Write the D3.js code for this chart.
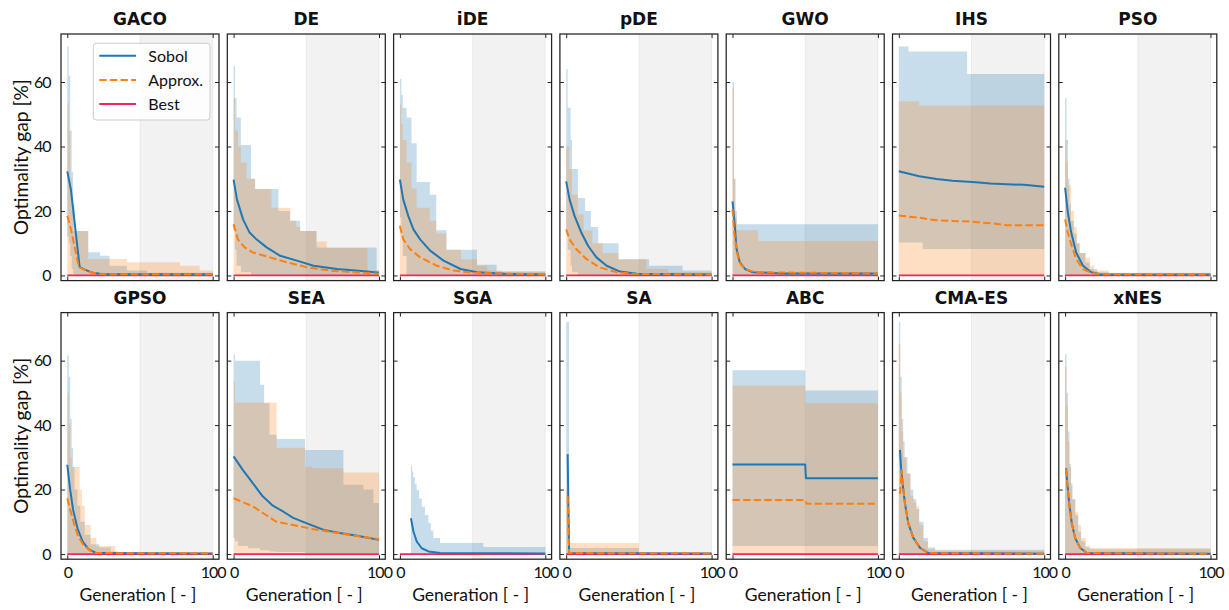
<!DOCTYPE html>
<html>
<head>
<meta charset="utf-8">
<script src="https://cdn.jsdelivr.net/npm/d3@7"></script>
<style>
  html, body { margin: 0; padding: 0; background: #fff; }
  svg { display: block; }
  .tick text { font-family: Lato, "DejaVu Sans", sans-serif; font-size: 16px; fill: #111; letter-spacing: -1px; }
  .tick line { stroke: #222; stroke-width: 1; }
</style>
</head>
<body>
<svg id="chart" width="1229" height="610"></svg>
<script>
// ---- categories and axis ticks ----
const algorithms = ["GACO", "DE", "iDE", "pDE", "GWO", "IHS", "PSO",
                    "GPSO", "SEA", "SGA", "SA", "ABC", "CMA-ES", "xNES"];
const yTicks = [0, 20, 40, 60];
const xTicks = [0, 100];
const seriesNames = ["Sobol", "Approx.", "Best"];
const shadedSpan = [50, 100];
const bestGap = [[0, 0], [100, 0]];

// ---- mean optimality gap per generation: [generation, gap %] ----
// ---- spread bands (step-after): [generation, low, high] ----
const gacoSobol = [[0,32.3],[2.5,26.6],[8.5,2.6],[12,1.8],[17.5,0.8],[25,0.4],[100,0.4]];
const gacoApprox = [[0,18.5],[2.5,14.3],[8,2.5],[12,1.8],[17,0.8],[25,0.4],[100,0.4]];
const gacoSobolBand = [[0,12,71],[1,10,62],[2,6,45],[3,2,32],[4,0.5,22],[5,0,13.8],[14.4,0,7.2],[22.4,0,6.1],[29,0,3],[41,0,1.5],[55,0,0.8],[100,0,0.8]];
const gacoApproxBand = [[0,0,53.4],[1,0,45],[2,0,30],[3,0,20],[4,0,13.8],[14.4,0,5.1],[41,0,4.1],[77.5,0,3],[91,0,1.5],[100,0,1.5]];

const deSobol = [[0,29.7],[2.3,23.6],[6.5,17.4],[11,13.3],[15.7,11.2],[22.7,8.7],[32,6.1],[43.5,4.6],[55,3.0],[71,2.0],[90,1.3],[100,0.8]];
const deApprox = [[0,15.9],[3,11.2],[7.6,8.7],[13.4,7.1],[25,5.6],[36.6,4.1],[50.5,2.5],[66.7,1.5],[83,1.0],[100,0.5]];
const deSobolBand = [[0,14,65],[1,8,55],[2,3,49],[5,1,40.5],[12,0,30],[14.8,0,26.8],[30.8,0,20],[38.8,0,17],[45.7,0,13.8],[57,0,8.7],[98.4,0,1.5],[100,0,1.5]];
const deApproxBand = [[0,0,55],[1,0,45],[3,0,40],[5,0,35],[9,0,30],[14.8,0,26.8],[26,0,21],[39,0,17],[43,0,15],[46,0,13.8],[57,0,10.5],[64,0,8.5],[92,0,1.5],[100,0,1.5]];

const ideSobol = [[0,29.7],[2.3,23.6],[5.8,18.4],[9.3,14.3],[13.9,11.2],[20.8,7.7],[30,4.6],[41.7,2.0],[53,1.0],[72,0.5],[100,0.3]];
const ideApprox = [[0,15.4],[2.3,11.2],[6.9,8.2],[13.9,5.6],[25.5,3.0],[37,1.5],[51,0.8],[100,0.3]];
const ideSobolBand = [[0,18,61],[1,12,56],[2,6,52],[4.6,0,49],[8,0,41],[11.5,0,29],[20.6,0,25],[25,0,14],[32,0,8],[53,0,3.3],[66.5,0,1.3],[100,0,1.3]];
const ideApproxBand = [[0,0,53],[1,0,47],[2,0,42],[4.6,0,35],[8,0,27],[11.5,0,21],[20.6,0,17],[25,0,13],[32,0,8],[42,0,5],[53,0,3],[60,0,1.5],[70,0,1],[100,0,1]];

const pdeSobol = [[0,29.2],[2.3,23.6],[5.8,18.4],[10.4,13.3],[15,9.2],[20.8,5.6],[27.8,3.0],[37,1.2],[48.6,0.5],[100,0.3]];
const pdeApprox = [[0,14.3],[2.3,11.2],[6.9,8.2],[13.9,5.1],[23,2.5],[34.7,1.0],[46,0.5],[100,0.3]];
const pdeSobolBand = [[0,14,64],[1,8,52],[3,3,42],[4,1,33],[8,0,24],[13,0,20],[17,0,15],[22,0,10],[36,0,5],[57,0,3],[80,0,1.5],[100,0,1.5]];
const pdeApproxBand = [[0,0,40],[2,0,33],[4,0,25],[8,0,19],[12,0,14],[18,0,10],[25,0,7],[36,0,5],[55,0,2],[70,0,1],[100,0,1]];

const gwoSobol = [[0,23.0],[1.6,15.4],[2.8,8.2],[5,4.1],[8.6,2.0],[14,1.0],[35,0.6],[100,0.6]];
const gwoApprox = [[0,20.5],[1.2,13.3],[3,7.1],[5.5,3.5],[9.6,1.8],[16,1.0],[100,0.6]];
const gwoSobolBand = [[0,0,60],[1,0,30],[2,0,20],[3,0,15.9],[100,0,15.9]];
const gwoApproxBand = [[0,0,58],[1,0,30],[2,0,18],[3,0,14],[17.7,0,10.7],[100,0,10.7]];

const ihsSobol = [[0,32.3],[14,30.8],[26,29.9],[37,29.4],[53,28.9],[63,28.5],[86,28.1],[100,27.5]];
const ihsApprox = [[0,18.6],[14,17.9],[26,17.1],[49,16.7],[65,16.1],[74,15.6],[100,15.6]];
const ihsSobolBand = [[0,10.2,71],[6.6,10.2,69.5],[16.4,8.2,69.5],[47,8.2,62.5],[100,8.2,62.5]];
const ihsApproxBand = [[0,0,54],[14,0,52.7],[100,0,52.7]];

const psoSobol = [[0,27.2],[1.9,19.5],[4.2,13.3],[7.6,7.1],[12.3,3.0],[18,1.0],[24,0.4],[100,0.3]];
const psoApprox = [[0,17.4],[1.9,13.3],[4.2,9.7],[7.6,5.1],[12.3,2.0],[18,0.8],[24,0.4],[100,0.3]];
const psoSobolBand = [[0,0,55],[1,0,42],[2,0,30],[3,0,22],[4,0,17],[6,0,13],[8,0,10],[10,0,7],[14,0,4],[17,0,2],[22,0,1],[30,0,0.5],[100,0,0.5]];
const psoApproxBand = [[0,0,42],[1,0,35],[2,0,28],[4,0,20],[6,0,15],[8,0,10],[10,0,7],[14,0,5.5],[17,0,3],[20,0,1.5],[30,0,0.8],[100,0,0.8]];

const gpsoSobol = [[0,27.7],[2,19.9],[4,13.7],[7,8.0],[10.5,3.9],[14.5,1.5],[20,0.3],[100,0.2]];
const gpsoApprox = [[0,17.3],[2,13.7],[4.5,9.6],[7.5,5.4],[11,2.9],[15.5,1.1],[20,0.3],[100,0.2]];
const gpsoSobolBand = [[0,0,61.7],[1,0,55],[2,0,42],[3,0,33],[4,0,27],[5,0,20],[7,0,15],[9,0,10],[12,0,6],[16,0,3],[22,0,2],[30,0,0.8],[35,0,0.3],[100,0,0.3]];
const gpsoApproxBand = [[0,0,50],[1,0,40],[2,0,30],[3,0,27],[8.5,0,20],[10,0,15],[12,0,9],[16,0,5],[20,0,2.5],[33,0,0.5],[100,0,0.5]];

const seaSobol = [[0,30.3],[6.3,26.1],[13.2,22.0],[20,17.9],[27,15.0],[34,13.2],[41,11.2],[50,9.6],[62,7.5],[73,6.5],[85,5.7],[100,4.4]];
const seaApprox = [[0,17.3],[13.2,14.8],[22,12.2],[29,10.1],[40,9.1],[55,7.7],[69,6.7],[83,5.7],[100,4.6]];
const seaSobolBand = [[0,5,62],[1,4,60],[3,2.5,60],[10,1.8,60],[18.2,1.2,52.5],[21,1.2,46.8],[24.7,0.8,37],[29.6,0.6,35.7],[49.1,0.3,32.3],[75.5,0.3,21.5],[89.3,0.3,20],[96.2,0.3,15.8],[100,0.3,15.8]];
const seaApproxBand = [[0,0,53.5],[1,0,47],[29.6,0,33],[49.1,0,27.1],[54,0,26.6],[75.5,0,25.3],[100,0,25.3]];

const sgaSobol = [[7.6,11.1],[9.3,7.0],[11.6,3.9],[15,1.8],[19.7,0.8],[27.8,0.3],[100,0.2]];
const sgaApprox = [];
const sgaSobolBand = [[7.6,0,27.4],[8.4,0,25.5],[9.2,0,23.8],[10.3,0,21.8],[11.5,0,19.9],[13.2,0,17.2],[15,0,14.7],[17.3,0,12.1],[19.6,0,9.6],[21.3,0,7.3],[23,0,5],[27.6,0,3.4],[57.4,0,2.2],[100,0,2.2]];
const sgaApproxBand = [];

const saSobol = [[1,31],[2,0.3],[100,0.2]];
const saApprox = [[1,18],[2,0.3],[100,0.2]];
const saSobolBand = [[0,0,72],[2,0,1.9],[50,0,0.3],[100,0,0.3]];
const saApproxBand = [[0,0,20],[2,0,3.4],[50,0,0.3],[100,0,0.3]];

const abcSobol = [[0,27.8],[50,27.8],[50.5,23.5],[100,23.5]];
const abcApprox = [[0,16.8],[50,16.8],[51,15.6],[100,15.6]];
const abcSobolBand = [[0,2.5,57],[50,2.5,50.7],[100,2.5,50.7]];
const abcApproxBand = [[0,0,52.3],[50,0,46.8],[100,0,46.8]];

const cmaesSobol = [[0.8,32.3],[1.5,27.2],[2.6,22],[4.2,15.8],[6.5,9.6],[10,5],[14.6,1.9],[20.4,0.3],[100,0.1]];
const cmaesApprox = [[0.8,18.6],[2,26],[2.6,22.5],[4.2,15.8],[6.5,9.6],[10,5],[14.6,1.9],[20.4,0.3],[100,0.1]];
const cmaesSobolBand = [[0,0,72],[1,0,55],[2,0,42],[3,0,35],[4,0,30],[6,0,25],[8,0,20],[10,0,17],[12,0,14],[14,0,10],[17,0,5],[20,0,2],[25,0,1.3],[100,0,1.3]];
const cmaesApproxBand = [[0,0,65],[1,0,50],[2,0,38],[3,0,30],[5,0,25],[8,0,18],[10,0,16],[12,0,14.8],[14,0,9],[17,0,4],[20,0,1.5],[25,0,1],[100,0,0.8]];

const xnesSobol = [[0.7,26.6],[1.5,22],[2.8,15.8],[4.6,9.6],[6.9,5],[10.4,1.9],[15,0.3],[100,0.1]];
const xnesApprox = [[0.7,26.3],[1.5,21.8],[2.8,15.6],[4.6,9.5],[6.9,5],[10.4,1.9],[15,0.3],[100,0.1]];
const xnesSobolBand = [[0,0,62],[1,0,50],[2,0,38],[3,0,28],[4,0,22],[5,0,17],[7,0,12],[9,0,7],[11,0,4],[14,0,2],[17,0,1.5],[100,0,1.2]];
const xnesApproxBand = [[0,0,58],[1,0,46],[2,0,35],[3,0,27],[4,0,21],[5,0,17],[7,0,13],[9,0,9],[11,0,5],[14,0,2.5],[17,0,1.9],[100,0,1.9]];

// panel table built from the arrays above
const panelData = [
  [gacoSobol, gacoApprox, gacoSobolBand, gacoApproxBand],
  [deSobol, deApprox, deSobolBand, deApproxBand],
  [ideSobol, ideApprox, ideSobolBand, ideApproxBand],
  [pdeSobol, pdeApprox, pdeSobolBand, pdeApproxBand],
  [gwoSobol, gwoApprox, gwoSobolBand, gwoApproxBand],
  [ihsSobol, ihsApprox, ihsSobolBand, ihsApproxBand],
  [psoSobol, psoApprox, psoSobolBand, psoApproxBand],
  [gpsoSobol, gpsoApprox, gpsoSobolBand, gpsoApproxBand],
  [seaSobol, seaApprox, seaSobolBand, seaApproxBand],
  [sgaSobol, sgaApprox, sgaSobolBand, sgaApproxBand],
  [saSobol, saApprox, saSobolBand, saApproxBand],
  [abcSobol, abcApprox, abcSobolBand, abcApproxBand],
  [cmaesSobol, cmaesApprox, cmaesSobolBand, cmaesApproxBand],
  [xnesSobol, xnesApprox, xnesSobolBand, xnesApproxBand]
];

// ---- layout ----
const colors = { sobol: "#1f77b4", approx: "#ff7f0e", best: "#f5245a" };
const nCols = 7;
const left0 = 61, colStep = 166.3, panelW = 158, panelH = 246.6;
const rowTops = [34, 312.6];
const labelFont = "Lato, 'DejaVu Sans', sans-serif";

const x = d3.scaleLinear().domain([-4.33, 104.33]).range([0, panelW]);
const y = d3.scaleLinear().domain([-1.6, 74.9]).range([panelH, 0]);

const svg = d3.select("#chart");
const defs = svg.append("defs");
defs.append("clipPath").attr("id", "plot-clip")
  .append("rect").attr("width", panelW).attr("height", panelH);

const line = d3.line().x(d => x(d[0])).y(d => y(d[1]));
const band = d3.area().curve(d3.curveStepAfter)
  .x(d => x(d[0])).y0(d => y(d[1])).y1(d => y(d[2]));

algorithms.forEach((name, i) => {
  const col = i % nCols, row = Math.floor(i / nCols);
  const [sobol, approx, sobolBand, approxBand] = panelData[i];
  const g = svg.append("g")
    .attr("transform", `translate(${left0 + col * colStep},${rowTops[row]})`);

  const plot = g.append("g").attr("clip-path", "url(#plot-clip)");

  // shaded late-generation window
  plot.append("rect")
    .attr("x", x(shadedSpan[0])).attr("y", -1)
    .attr("width", x(shadedSpan[1]) - x(shadedSpan[0])).attr("height", panelH + 2)
    .attr("fill", "#808080").attr("fill-opacity", 0.1)
    .attr("stroke", "#808080").attr("stroke-opacity", 0.1).attr("stroke-width", 1);

  if (sobolBand.length) plot.append("path").datum(sobolBand).attr("d", band)
    .attr("fill", colors.sobol).attr("fill-opacity", 0.25);
  if (approxBand.length) plot.append("path").datum(approxBand).attr("d", band)
    .attr("fill", colors.approx).attr("fill-opacity", 0.25);

  plot.append("path").datum(bestGap).attr("d", line)
    .attr("fill", "none").attr("stroke", colors.best).attr("stroke-width", 1.8);
  if (sobol.length) plot.append("path").datum(sobol).attr("d", line)
    .attr("fill", "none").attr("stroke", colors.sobol).attr("stroke-width", 2)
    .attr("stroke-linejoin", "round");
  if (approx.length) plot.append("path").datum(approx).attr("d", line)
    .attr("fill", "none").attr("stroke", colors.approx).attr("stroke-width", 2)
    .attr("stroke-dasharray", "7.4,3.2").attr("stroke-linejoin", "round");

  // axes with inward ticks on all four sides
  const leftAxis = d3.axisLeft(y).tickValues(yTicks).tickSize(-4).tickPadding(10.5);
  const rightAxis = d3.axisRight(y).tickValues(yTicks).tickSize(-4).tickFormat("");
  const bottomAxis = d3.axisBottom(x).tickValues(xTicks).tickSize(-4).tickPadding(4);
  const topAxis = d3.axisTop(x).tickValues(xTicks).tickSize(-4).tickFormat("");
  if (col !== 0) leftAxis.tickFormat("");
  if (row !== 1) bottomAxis.tickFormat("");

  const ax = [
    g.append("g").call(leftAxis),
    g.append("g").attr("transform", `translate(${panelW},0)`).call(rightAxis),
    g.append("g").attr("transform", `translate(0,${panelH})`).call(bottomAxis),
    g.append("g").call(topAxis)
  ];
  ax.forEach(a => a.select(".domain").remove());
  ax[2].selectAll(".tick text").attr("dy", "0.95em");

  g.append("rect").attr("width", panelW).attr("height", panelH)
    .attr("fill", "none").attr("stroke", "#222").attr("stroke-width", 1.25);

  g.append("text").attr("x", panelW / 2).attr("y", -9)
    .attr("text-anchor", "middle")
    .style("font-family", "'DejaVu Sans', sans-serif").style("font-weight", "bold")
    .style("font-size", "17px").attr("fill", "#111").text(name);

  if (col === 0) {
    g.append("text")
      .attr("transform", `translate(${28 - left0},${panelH / 2}) rotate(-90)`)
      .attr("text-anchor", "middle")
      .attr("textLength", 156).attr("lengthAdjust", "spacingAndGlyphs")
      .style("font-family", labelFont).style("font-size", "18.5px")
      .attr("fill", "#111").text("Optimality gap [%]");
  }
  if (row === 1) {
    g.append("text").attr("x", panelW / 2 - 2).attr("y", panelH + 42)
      .attr("text-anchor", "middle")
      .style("font-family", labelFont).style("font-size", "17.5px")
      .attr("fill", "#111").attr("xml:space", "preserve").text("Generation [ - ]");
  }

  // legend in the first panel
  if (i === 0) {
    const lg = g.append("g").attr("transform", `translate(${panelW - 125.7},9.3)`);
    lg.append("rect").attr("width", 116.7).attr("height", 76.7).attr("rx", 3)
      .attr("fill", "#fff").attr("fill-opacity", 0.8)
      .attr("stroke", "#cccccc").attr("stroke-width", 1);
    const styles = [
      { c: colors.sobol, dash: null },
      { c: colors.approx, dash: "7.4,3.2" },
      { c: colors.best, dash: null }
    ];
    seriesNames.forEach((s, k) => {
      const yy = 12.4 + k * 24.2;
      lg.append("line").attr("x1", 6).attr("x2", 42.7).attr("y1", yy).attr("y2", yy)
        .attr("stroke", styles[k].c).attr("stroke-width", 2)
        .attr("stroke-dasharray", styles[k].dash);
      lg.append("text").attr("x", 55).attr("y", yy + 6)
        .style("font-family", labelFont).style("font-size", "16px")
        .attr("fill", "#111").text(s);
    });
  }
});
</script>
</body>
</html>
